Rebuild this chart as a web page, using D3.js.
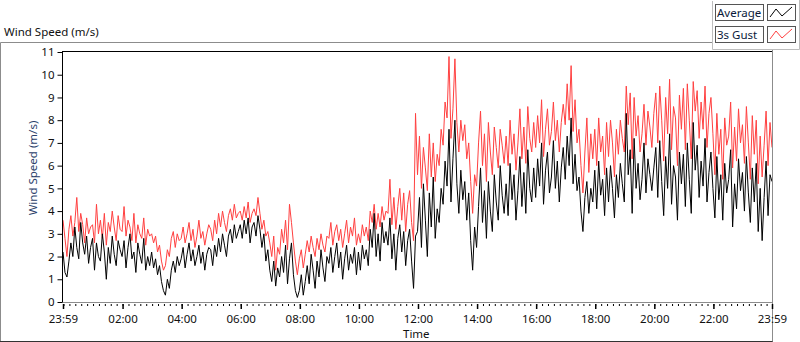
<!DOCTYPE html>
<html>
<head>
<meta charset="utf-8">
<script src="https://cdn.jsdelivr.net/npm/d3@7"></script>
<style>
  body { margin: 0; background: #fff; }
  svg { display: block; font-family: "Noto Sans", "Open Sans", sans-serif; }
</style>
</head>
<body>
<svg id="chart" width="800" height="342"></svg>
<script>
// one sample every 4 minutes, from 23:59 to 23:59 next day
var stepMinutes = 4;

var averageSpeed = [
  2.2,1.3,1.1,1.8,2.6,2.0,3.3,2.4,1.9,3.5,2.6,2.1,2.9,1.7,2.4,
  2.8,1.4,2.6,2.0,1.8,3.0,2.2,1.0,2.4,1.7,2.9,2.1,1.6,2.7,2.3,
  2.0,2.7,1.5,2.4,3.0,1.9,2.2,1.3,2.6,2.1,1.7,2.8,1.4,2.0,1.6,
  2.2,1.5,1.9,1.2,1.6,0.9,0.5,0.3,1.0,0.6,1.4,1.8,1.3,2.0,1.6,
  1.9,2.4,1.5,2.1,2.6,1.8,2.3,1.6,2.0,2.5,1.7,2.2,1.4,2.1,2.4,
  2.3,1.6,2.5,2.0,2.8,2.2,3.0,2.5,2.0,2.9,3.2,2.6,3.4,2.8,3.1,
  3.4,2.8,3.6,3.0,3.7,2.6,3.3,3.5,2.9,3.8,3.2,2.4,3.0,1.8,2.3,
  1.4,0.9,1.8,0.7,1.5,1.1,2.0,1.3,2.5,0.8,1.9,2.6,1.2,0.5,0.2,
  0.5,1.2,0.3,0.9,1.6,0.8,2.1,1.4,0.6,1.8,1.1,2.3,1.5,0.9,2.0,
  1.7,2.4,1.3,2.0,2.6,1.5,2.2,1.0,1.9,2.5,1.4,2.1,1.7,2.4,1.2,
  2.2,1.4,2.5,1.9,2.3,1.6,3.2,2.4,3.9,2.0,3.0,1.8,3.5,2.6,3.1,
  2.5,3.7,1.9,3.0,1.4,2.8,3.4,2.2,3.1,1.6,2.7,3.2,1.8,0.6,2.9,
  3.1,4.6,2.4,5.2,3.6,2.0,4.8,3.3,5.5,2.8,4.1,3.5,5.0,4.3,6.2,
  5.1,7.6,4.4,6.3,8.0,5.2,3.9,5.8,4.5,5.3,3.6,4.8,2.7,1.4,3.3,
  2.4,4.2,5.9,3.5,4.9,2.8,5.3,4.0,3.1,5.6,4.4,3.6,6.0,4.7,3.9,
  5.2,3.8,6.1,4.5,5.6,3.6,4.9,6.4,4.2,5.7,3.9,6.7,5.0,4.4,5.9,
  4.6,6.3,5.1,7.0,4.3,5.8,6.6,4.8,5.5,7.1,5.0,6.2,4.4,5.9,6.8,
  5.4,7.3,6.0,8.1,5.2,6.5,4.9,5.5,4.0,3.1,4.6,5.3,3.9,5.0,4.4,
  5.8,4.1,6.2,4.7,5.4,3.8,5.9,4.4,6.0,5.0,3.7,5.6,4.6,6.1,5.2,
  4.4,8.3,5.6,6.7,3.9,7.2,5.0,6.1,4.5,5.4,7.0,4.8,6.3,5.6,4.9,
  5.9,6.8,4.6,7.1,5.3,3.8,6.4,5.0,7.4,4.3,6.0,5.5,3.6,6.6,5.2,
  6.5,4.2,7.0,5.4,3.9,7.9,5.8,6.9,4.6,6.2,5.1,7.2,4.4,5.7,6.6,
  5.0,3.7,6.4,4.5,5.6,3.6,6.1,4.8,5.4,6.7,3.3,5.2,4.1,6.3,4.9,
  5.7,4.0,6.4,4.8,3.5,5.9,4.4,6.1,3.1,5.0,2.7,4.6,6.2,3.8,5.6,
  5.3
];

var gustSpeed = [
  3.6,2.8,2.0,3.2,3.8,2.9,3.5,4.6,3.1,3.9,3.4,2.6,3.7,3.0,3.3,
  3.4,2.6,4.3,3.0,3.6,2.8,3.9,2.5,3.5,3.1,4.0,3.3,2.7,3.8,3.2,
  3.1,4.2,2.9,3.6,3.3,2.7,3.9,2.6,3.4,3.0,2.8,3.7,2.5,3.2,2.9,
  3.0,2.6,2.9,2.2,2.5,1.8,1.4,1.6,2.3,2.0,2.8,3.1,2.4,3.0,2.7,
  2.8,3.3,2.6,3.0,3.5,2.7,3.2,2.4,2.9,3.6,2.8,3.1,2.5,3.0,3.4,
  3.2,2.7,3.6,3.0,3.9,3.3,4.0,3.5,3.1,3.8,4.1,3.6,4.3,3.7,3.9,
  4.0,3.6,4.2,3.7,4.4,3.5,3.9,4.1,3.8,4.6,3.9,3.2,3.6,2.9,3.1,
  2.6,2.0,2.9,1.4,2.4,2.1,3.2,2.6,3.6,2.3,4.3,3.5,2.6,1.8,1.2,
  1.9,2.3,1.5,2.1,2.7,2.2,2.9,2.4,2.0,2.8,2.3,3.0,2.5,2.2,2.9,
  2.8,3.5,2.5,3.1,3.4,2.7,3.2,2.4,3.0,3.6,2.6,3.3,2.9,3.7,2.5,
  3.0,2.6,3.4,2.9,3.3,2.7,4.0,3.5,4.3,3.2,3.9,3.3,4.2,3.6,4.0,
  3.9,5.4,3.4,4.6,3.2,4.2,5.0,3.6,4.8,3.1,4.3,4.9,3.5,2.7,8.3,
  5.6,7.3,5.0,6.8,5.9,4.9,7.4,5.5,7.0,5.3,6.5,6.0,7.6,6.9,8.8,
  8.1,10.8,7.2,8.5,10.7,7.9,6.6,8.0,7.1,7.8,6.3,7.0,5.3,3.9,5.6,
  5.1,7.0,8.4,6.0,7.4,5.3,7.9,6.6,5.6,7.7,6.8,5.9,7.6,6.9,6.1,
  7.3,6.0,8.0,6.5,7.4,5.8,7.0,8.5,6.3,7.7,6.1,8.6,7.2,6.6,7.9,
  6.8,8.2,7.0,8.9,6.4,7.6,8.5,6.9,7.5,8.8,7.1,8.0,6.6,7.9,8.7,
  7.8,9.6,8.0,10.4,7.5,8.9,7.0,7.6,6.0,4.8,6.6,8.1,5.7,7.4,6.3,
  7.6,6.0,8.1,6.6,7.3,5.6,7.9,6.4,8.0,7.0,5.5,7.6,6.5,8.0,7.2,
  6.6,9.5,7.8,9.2,6.3,9.0,7.3,8.2,6.6,7.4,8.7,6.9,8.4,7.7,6.8,
  8.3,9.2,7.0,9.5,8.0,6.2,9.0,7.4,9.8,6.7,8.6,8.1,6.0,9.1,7.6,
  9.4,6.7,9.6,8.0,6.3,9.7,8.4,9.3,7.2,8.8,7.6,9.5,6.8,8.3,9.0,
  7.4,5.6,8.3,6.5,7.6,5.4,8.1,6.9,7.3,8.8,5.9,7.7,6.2,8.5,7.0,
  7.8,6.1,8.6,7.0,5.4,8.2,6.5,8.0,5.2,7.3,5.5,6.9,8.4,6.0,7.9,
  6.8
];

var seriesNames = ["Average", "3s Gust"];
var seriesColors = ["#000000", "#ff4040"];
var yTicks = [0,1,2,3,4,5,6,7,8,9,10,11];

var svg = d3.select("#chart");

var startTime = new Date(2020, 0, 1, 23, 59);
var endTime = new Date(2020, 0, 2, 23, 59);

var x = d3.scaleTime().domain([startTime, endTime]).range([63, 772]);
var y = d3.scaleLinear().domain([0, 11]).range([302, 52]);

function timeAt(i) {
  return new Date(startTime.getTime() + i * stepMinutes * 60000);
}

// outer frame, grey like the LabVIEW chart border
svg.append("path")
  .attr("d", "M0.5,341.5 V42.5 H712.5")
  .attr("fill", "none").attr("stroke", "#8c8c8c");
svg.append("path")
  .attr("d", "M0,341.5 H773")
  .attr("stroke", "#333");
svg.append("path")
  .attr("d", "M772.5,49.5 V341.5")
  .attr("stroke", "#8c8c8c");

// legend panel
svg.append("path")
  .attr("d", "M712.5,1 V49.5 H799.5 V0")
  .attr("fill", "none").attr("stroke", "#bdbdbd");

svg.append("text")
  .attr("x", 4).attr("y", 36)
  .attr("font-size", "11.5px")
  .attr("fill", "#111")
  .text("Wind Speed (m/s)");

var legend = svg.append("g");
seriesNames.forEach(function(name, i) {
  var ly = 4 + i * 22;
  legend.append("rect")
    .attr("x", 715.5).attr("y", ly + 0.5)
    .attr("width", 48).attr("height", 16)
    .attr("fill", "#fff").attr("stroke", "#555");
  legend.append("text")
    .attr("x", 717).attr("y", ly + 12.5)
    .attr("font-size", "11.5px").attr("fill", "#0a1a3a")
    .text(name);
  legend.append("rect")
    .attr("x", 767.5).attr("y", ly + 0.5)
    .attr("width", 28).attr("height", 16)
    .attr("fill", "#fff").attr("stroke", "#555");
  legend.append("path")
    .attr("d", "M770," + (ly + 13) + " L776," + (ly + 5) + " L782," + (ly + 12) + " L792," + (ly + 3))
    .attr("fill", "none")
    .attr("stroke", seriesColors[i]);
});

// plot area
var plot = svg.append("g");
plot.append("clipPath").attr("id", "clip")
  .append("rect").attr("x", 63).attr("y", 52).attr("width", 709).attr("height", 251);

var line = d3.line()
  .x(function(d, i) { return x(timeAt(i)); })
  .y(function(d) { return y(d); });

plot.append("path")
  .datum(gustSpeed)
  .attr("clip-path", "url(#clip)")
  .attr("fill", "none")
  .attr("stroke", seriesColors[1])
  .attr("stroke-width", 1)
  .attr("d", line);

plot.append("path")
  .datum(averageSpeed)
  .attr("clip-path", "url(#clip)")
  .attr("fill", "none")
  .attr("stroke", seriesColors[0])
  .attr("stroke-width", 1)
  .attr("d", line);

// plot borders
svg.append("path").attr("d", "M62,51.5 H772").attr("stroke", "#000");
svg.append("path").attr("d", "M62.5,51 V303").attr("stroke", "#000");
svg.append("path").attr("d", "M62,302.5 H772").attr("stroke", "#8c8c8c");

// y axis
var yAxis = d3.axisLeft(y).tickValues(yTicks).tickSize(5).tickPadding(3);
var yg = svg.append("g").attr("transform", "translate(62.5,0)").call(yAxis);
yg.select(".domain").remove();
yg.selectAll("text").attr("font-size", "11.5px").attr("font-family", "Noto Sans").attr("fill", "#111");

svg.append("text")
  .attr("transform", "translate(37,168) rotate(-90)")
  .attr("text-anchor", "middle")
  .attr("font-size", "11.5px")
  .attr("fill", "#2b3f6b")
  .text("Wind Speed (m/s)");

// x axis: major every 2 h plus both 23:59 ends, minor every 12 min
var majorTicks = [startTime].concat(d3.timeHour.every(2).range(new Date(2020, 0, 2, 2), endTime)).concat([endTime]);
var minorTicks = d3.timeMinute.every(12).range(new Date(2020, 0, 2, 0, 0), endTime);
var fmt = d3.timeFormat("%H:%M");

var xMinor = d3.axisBottom(x).tickValues(minorTicks).tickSize(2).tickFormat("");
var xmg = svg.append("g").attr("transform", "translate(0,304)").call(xMinor);
xmg.select(".domain").remove();

var xAxis = d3.axisBottom(x).tickValues(majorTicks).tickSize(5).tickPadding(6).tickFormat(fmt);
var xg = svg.append("g").attr("transform", "translate(0,304)").call(xAxis);
xg.select(".domain").remove();
xg.selectAll("line").attr("stroke-width", 1.5);
xg.selectAll("text").attr("font-size", "11.5px").attr("font-family", "Noto Sans").attr("fill", "#111");

svg.append("text")
  .attr("x", 403).attr("y", 338)
  .attr("font-size", "11.5px")
  .attr("fill", "#111")
  .text("Time");
</script>
</body>
</html>
